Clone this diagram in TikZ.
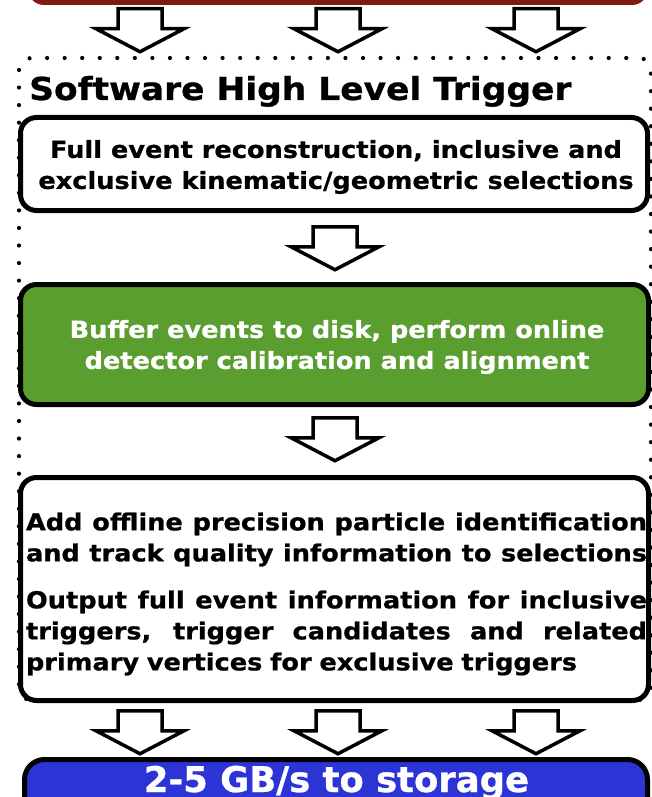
\documentclass[tikz,border=0pt]{standalone}
\usepackage{fontspec}
\setmainfont{DejaVu Sans}
% a wider, heavier face for the stage texts
\newfontfamily\stagefamily{DejaVu Sans}[FakeStretch=1.09, BoldFeatures={FakeBold=0.8}]
\newfontfamily\ratefamily{DejaVu Sans}[BoldFeatures={FakeBold=0.8}]
\definecolor{hltred}{RGB}{126,26,16}
\definecolor{hltgreen}{RGB}{90,158,48}
\definecolor{hltblue}{RGB}{44,52,214}
\newcommand{\boxfont}{\stagefamily\fontsize{23.5}{31}\selectfont\bfseries}
\newcommand{\titlefont}{\stagefamily\fontsize{31.6}{38}\selectfont\bfseries}
\newcommand{\ratefont}{\ratefamily\fontsize{35.4}{40}\selectfont\bfseries}
% one line spread over the full text width, with the font's own stretchable spaces
\newcommand{\fullline}[1]{\makebox[621pt][s]{\spaceskip=0pt\xspaceskip=0pt #1}}
\tikzset{
  stagebox/.style={draw=black, line width=5pt, rounded corners=16pt, fill=white,
    inner sep=0pt, align=center, font=\boxfont},
  frameline/.style={line width=4.2pt, line cap=round, dash pattern=on 0pt off 17.55pt,
    rounded corners=12pt},
  blockarrow/.pic={
    \draw[line width=3.5pt, fill=white, miter limit=10]
      (-22,0) -- (22,0) -- (22,20) -- (44,20) -- (0,43) -- (-44,20) -- (-22,20) -- cycle;
  }
}
\begin{document}
\begin{tikzpicture}[x=1pt, y=-1pt]
\useasboundingbox (0,0) rectangle (652,797);
\clip (0,0) rectangle (652,797);

% incoming stage (cut off at the top)
\node[draw=none, fill=hltred, rounded corners=16pt, minimum width=620pt,
      minimum height=60pt, inner sep=0pt] (upstream) at (338,-25) {};

% dotted frame of the software trigger
\draw[frameline] (19,58) rectangle (651,700);
\node[anchor=base west, font=\titlefont, inner sep=0pt] (title) at (29,100)
  {Software High Level Trigger};

% processing stages
\node[stagebox, minimum width=627pt, minimum height=93pt] (reco) at (334,164) {};
\node[font=\boxfont, align=center, inner sep=0pt] (recotext) at (336,167)
  {Full event reconstruction, inclusive and\\exclusive kinematic/geometric selections};
\node[stagebox, fill=hltgreen, minimum width=628pt, minimum height=120pt]
  (calib) at (334.5,344.5) {};
\node[font=\boxfont, text=white, align=center, inner sep=0pt] (calibtext) at (337,347)
  {Buffer events to disk, perform online\\detector calibration and alignment};
\node[stagebox, minimum width=628pt, minimum height=223pt] (sel) at (334.5,589) {};
\node[inner sep=0pt, text width=621pt, align=left, font=\boxfont] (seltext)
  at (336.5,594)
  {\fullline{Add offline precision particle identification}\\
   \fullline{and track quality information to selections}\\[16pt]
   \fullline{Output full event information for inclusive}\\
   \fullline{triggers, trigger candidates and related}\\
   primary vertices for exclusive triggers};

% output to storage (cut off at the bottom)
\node[stagebox, fill=hltblue, minimum width=623pt, minimum height=71pt, rounded corners=20pt]
  (storage) at (336,795) {};
\node[anchor=base, font=\ratefont, text=white, inner sep=0pt] (rate) at (336.5,792)
  {2-5 GB/s to storage};

% block arrows between the stages
\foreach \x in {140,338,536} {
  \pic at (\x,8.75) {blockarrow};
  \pic at (\x,710.75) {blockarrow};
}
\pic at (335,226.75) {blockarrow};
\pic at (335,417.75) {blockarrow};
\end{tikzpicture}
\end{document}
